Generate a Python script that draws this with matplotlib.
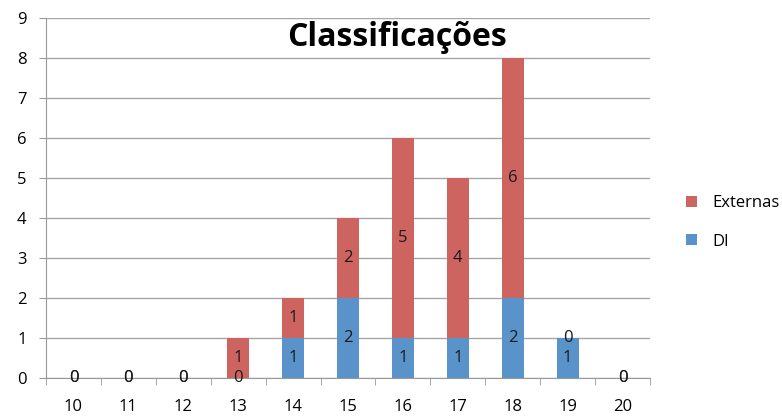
import matplotlib.pyplot as plt
import numpy as np

plt.rcParams['font.family'] = ['Open Sans', 'DejaVu Sans']

notas = ['10', '11', '12', '13', '14', '15', '16', '17', '18', '19', '20']
di = [0, 0, 0, 0, 1, 2, 1, 1, 2, 1, 0]
externas = [0, 0, 0, 1, 1, 2, 5, 4, 6, 0, 0]

cor_di = '#5a93c9'
cor_ext = '#cd6460'

fig = plt.figure(figsize=(7.82, 4.17), dpi=100)
ax = fig.add_axes([46 / 782, 1 - 378 / 417, 604 / 782, 360 / 417])

x = np.arange(len(notas))
w = 0.4
b1 = ax.bar(x, di, width=w, color=cor_di, label='DI', zorder=3)
b2 = ax.bar(x, externas, width=w, bottom=di, color=cor_ext, label='Externas', zorder=3)

# value labels in the middle of each segment
for i in range(len(notas)):
    ax.text(x[i], di[i] / 2, str(di[i]), ha='center', va='center', fontsize=12, color='#1a1a1a', zorder=4)
    ax.text(x[i], di[i] + externas[i] / 2, str(externas[i]), ha='center', va='center',
            fontsize=12, color='#1a1a1a', zorder=4)

ax.set_xlim(-0.5, len(notas) - 0.5)
ax.set_ylim(0, 9)
ax.set_yticks(range(0, 10))
ax.set_xticks(x)
ax.set_xticklabels(notas)
ax.set_xticks(np.arange(-0.5, len(notas)), minor=True)
ax.tick_params(axis='x', which='major', length=0, pad=15, labelsize=12)
ax.tick_params(axis='x', which='minor', length=5, color='#999999')
ax.tick_params(axis='y', length=5, color='#999999', labelsize=12, pad=9)

ax.grid(axis='y', color='#a6a6a6', linewidth=1, zorder=0)
for s in ['top', 'right']:
    ax.spines[s].set_visible(False)
for s in ['left', 'bottom']:
    ax.spines[s].set_color('#999999')

ax.text(0.581, 0.947, 'Classificações', transform=ax.transAxes, ha='center', va='center',
        fontsize=23, fontweight='bold')

handles, labels = ax.get_legend_handles_labels()
ax.legend(handles[::-1], labels[::-1], loc='center left', bbox_to_anchor=(1.035, 0.432),
          frameon=False, fontsize=12, handlelength=0.65, handleheight=0.65, labelspacing=1.35,
          handletextpad=0.9)

fig.savefig('out.png', dpi=100)
